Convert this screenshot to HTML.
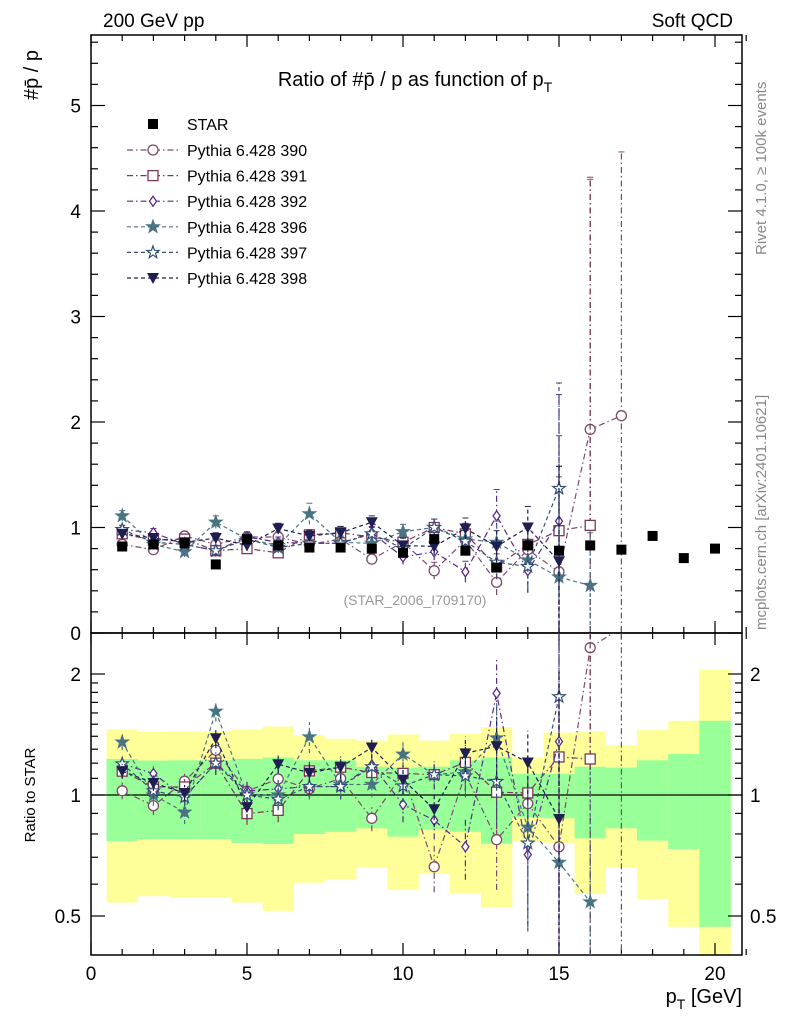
<!DOCTYPE html>
<html><head><meta charset="utf-8">
<style>
html,body{margin:0;padding:0;background:#fff;overflow:hidden;width:786px;height:1024px;}
svg{display:block;font-family:"Liberation Sans",sans-serif;}
</style></head>
<body>
<svg id="chart" width="786" height="1024" viewBox="0 0 786 1024" xmlns="http://www.w3.org/2000/svg">
<defs>
<clipPath id="cm"><rect x="91" y="35" width="651" height="598"/></clipPath>
<clipPath id="cr"><rect x="91" y="633" width="651" height="322"/></clipPath>
</defs>
<g id="bands" clip-path="url(#cr)"></g>
<g id="grid"></g>
<g id="series"></g>
<text x="103" y="27" font-size="19">200 GeV pp</text>
<text x="733" y="27" font-size="19" text-anchor="end">Soft QCD</text>
<text x="415" y="86" font-size="20" text-anchor="middle">Ratio of #p̄ / p as function of p<tspan font-size="14" dy="6">T</tspan></text>
<text transform="translate(38,100) rotate(-90)" font-size="20" text-anchor="start">#p̄ / p</text>
<text transform="translate(35,795) rotate(-90)" font-size="15" text-anchor="middle">Ratio to STAR</text>
<text x="742" y="1003" font-size="20" text-anchor="end">p<tspan font-size="14" dy="6">T</tspan><tspan dy="-6"> [GeV]</tspan></text>
<text transform="translate(766,255) rotate(-90)" font-size="15" fill="#888">Rivet 4.1.0, ≥ 100k events</text>
<text transform="translate(766,630) rotate(-90)" font-size="15" fill="#888">mcplots.cern.ch [arXiv:2401.10621]</text>
<text x="415" y="605" font-size="14" fill="#999" text-anchor="middle">(STAR_2006_I709170)</text>
<g id="legend"></g>
</svg>
<script>
const xs = [1,2,3,4,5,6,7,8,9,10,11,12,13,14,15,16,17,18,19,20];
const star = [0.82,0.84,0.85,0.65,0.89,0.83,0.81,0.81,0.80,0.76,0.89,0.78,0.62,0.83,0.78,0.83,0.79,0.92,0.71,0.80];
const s390 = [0.84,0.79,0.92,0.84,0.91,0.91,0.84,0.89,0.70,0.86,0.59,0.88,0.48,0.79,0.58,1.93,2.06];
const s391 = [0.94,0.88,0.89,0.78,0.80,0.76,0.93,0.95,0.91,0.86,1.00,0.94,0.63,0.84,0.97,1.02];
const s392 = [0.98,0.95,0.84,0.78,0.91,0.86,0.85,0.85,0.95,0.72,0.77,0.58,1.11,0.59,1.06];
const s396 = [1.11,0.84,0.77,1.05,0.89,0.83,1.13,0.86,0.85,0.96,1.00,0.89,0.86,0.69,0.53,0.45];
const s397 = [0.98,0.86,0.84,0.78,0.89,0.81,0.85,0.85,0.94,0.80,1.00,0.87,0.67,0.63,1.37];
const s398 = [0.94,0.90,0.86,0.90,0.83,0.99,0.92,0.95,1.05,0.83,0.82,0.99,0.82,1.00,0.68];
const e390 = [0.04,0.04,0.04,0.05,0.04,0.05,0.05,0.05,0.05,0.06,0.08,0.08,0.12,0.2,0.9,2.37,2.5];
const e391 = [0.04,0.04,0.04,0.05,0.05,0.05,0.05,0.06,0.06,0.07,0.08,0.1,0.12,0.2,0.9,3.3];
const e392 = [0.04,0.04,0.04,0.05,0.05,0.05,0.05,0.06,0.06,0.07,0.08,0.1,0.25,0.2,1.2];
const e396 = [0.05,0.05,0.05,0.06,0.05,0.06,0.1,0.06,0.06,0.07,0.08,0.1,0.2,0.3,1.05,0.5];
const e397 = [0.04,0.04,0.04,0.05,0.05,0.05,0.05,0.06,0.06,0.07,0.08,0.1,0.15,0.25,1.0];
const e398 = [0.04,0.04,0.04,0.05,0.05,0.05,0.05,0.06,0.06,0.07,0.08,0.1,0.15,0.2,0.9];
const yelHi = [1.457,1.437,1.44,1.44,1.457,1.48,1.41,1.38,1.365,1.415,1.365,1.42,1.475,1.24,1.43,1.44,1.33,1.45,1.53,2.05];
const grnHi = [1.229,1.218,1.22,1.22,1.23,1.24,1.22,1.22,1.176,1.17,1.176,1.22,1.24,1.13,1.13,1.176,1.17,1.22,1.265,1.53];
const grnLo = [0.768,0.777,0.777,0.777,0.76,0.755,0.80,0.81,0.826,0.788,0.82,0.81,0.757,0.88,0.875,0.78,0.826,0.77,0.734,0.47];
const yelLo = [0.54,0.56,0.555,0.555,0.54,0.515,0.605,0.617,0.66,0.58,0.636,0.57,0.526,0.766,0.76,0.567,0.66,0.55,0.47,0.3];
const xTicks = [0,5,10,15,20];
const yTicks = [0,1,2,3,4,5];
const rTicks = [0.5,1,2];

const NS="http://www.w3.org/2000/svg";
const X = v => 91 + v*31.2;
const Y = v => 633 - v*105.5;
const R = v => 795 - 121*Math.log2(v);
function mk(tag, attrs, parent){const e=document.createElementNS(NS,tag);for(const k in attrs)e.setAttribute(k,attrs[k]);parent.appendChild(e);return e;}
const grid=document.getElementById('grid');
const bands=document.getElementById('bands');
const ser=document.getElementById('series');
const leg=document.getElementById('legend');

xs.forEach((x,i)=>{
  const y1=mk('rect',{x:X(x-0.5),y:R(yelHi[i]),width:31.4,height:R(yelLo[i])-R(yelHi[i]),fill:'#ffff99'},bands);
  
  
  const g1=mk('rect',{x:X(x-0.5),y:R(grnHi[i]),width:31.4,height:R(grnLo[i])-R(grnHi[i]),fill:'#99ff99'},bands);
  
  
});

[[35,633],[633,955]].forEach(([t,b])=>{
  const f=mk('rect',{x:91,y:t,width:651,height:b-t,fill:'none',stroke:'#000','stroke-width':1.5},grid);
  
  
});
const one=mk('line',{x1:91,x2:742,y1:R(1),y2:R(1),stroke:'#000','stroke-width':1.2},grid);


for(let v=0;v<=21;v++){
  const L=(v%5===0)?12:6;
  [[633,-1],[35,1],[955,-1],[633,1]].forEach(([y,d])=>{
    mk('line',{x1:X(v),x2:X(v),y1:y,y2:y+d*L,stroke:'#000','stroke-width':1.2},grid);
  });
}
xTicks.forEach(v=>{
  const t=mk('text',{x:X(v),y:980,'font-size':19,'text-anchor':'middle'},grid);
  t.textContent=v;
  
  
});
for(let k=0;k<=28;k++){
  const v=k*0.2; const L=(k%5===0)?14:7;
  mk('line',{x1:91,x2:91+L,y1:Y(v),y2:Y(v),stroke:'#000','stroke-width':1.2},grid);
  mk('line',{x1:742,x2:742-L,y1:Y(v),y2:Y(v),stroke:'#000','stroke-width':1.2},grid);
}
yTicks.forEach(v=>{
  const t=mk('text',{x:81,y:Y(v)+7,'font-size':19,'text-anchor':'end'},grid);
  t.textContent=v;
  
  
});
[0.5,0.6,0.7,0.8,0.9,1,2,1.1,1.2,1.3,1.4,1.5,1.6,1.7,1.8,1.9].forEach(v=>{
  const L=(v===0.5||v===1||v===2)?14:7;
  mk('line',{x1:91,x2:91+L,y1:R(v),y2:R(v),stroke:'#000','stroke-width':1.2},grid);
  mk('line',{x1:742,x2:742-L,y1:R(v),y2:R(v),stroke:'#000','stroke-width':1.2},grid);
});
rTicks.forEach(v=>{
  const t=mk('text',{x:81,y:R(v)+7,'font-size':19,'text-anchor':'end'},grid);
  t.textContent=v;
  
  
  const t2=mk('text',{x:750,y:R(v)+7,'font-size':19},grid);
  t2.textContent=v;
  
  
});

function marker(type,cx,cy,col,parent){
  const s=5;
  if(type==='circle') return mk('circle',{cx,cy,r:5,fill:'#fff',stroke:col,'stroke-width':1.3},parent);
  if(type==='square') return mk('rect',{x:cx-s,y:cy-s,width:2*s,height:2*s,fill:'#fff',stroke:col,'stroke-width':1.3},parent);
  if(type==='fsquare') return mk('rect',{x:cx-s,y:cy-s,width:2*s,height:2*s,fill:col},parent);
  if(type==='diamond') return mk('polygon',{points:`${cx},${cy-5} ${cx+3.5},${cy} ${cx},${cy+5} ${cx-3.5},${cy}`,fill:'#fff',stroke:col,'stroke-width':1.3},parent);
  if(type==='tri') return mk('polygon',{points:`${cx-6},${cy-5} ${cx+6},${cy-5} ${cx},${cy+6}`,fill:col},parent);
  let p=[];for(let k=0;k<10;k++){const a=-Math.PI/2+k*Math.PI/5;const r=k%2?2.6:6.5;p.push((cx+r*Math.cos(a)).toFixed(1)+','+(cy+r*Math.sin(a)).toFixed(1));}
  return mk('polygon',{points:p.join(' '),fill:type==='star'?col:'#fff',stroke:col,'stroke-width':1.2},parent);
}

const series=[
 {name:'Pythia 6.428 390',v:s390,e:e390,col:'#7d4a6e',m:'circle',dash:'6,3,1.5,3'},
 {name:'Pythia 6.428 391',v:s391,e:e391,col:'#7a3858',m:'square',dash:'6,3,1.5,3'},
 {name:'Pythia 6.428 392',v:s392,e:e392,col:'#5a2a8c',m:'diamond',dash:'6,3,1.5,3'},
 {name:'Pythia 6.428 396',v:s396,e:e396,col:'#4a7383',m:'star',dash:'4,3'},
 {name:'Pythia 6.428 397',v:s397,e:e397,col:'#34507a',m:'ostar',dash:'4,3'},
 {name:'Pythia 6.428 398',v:s398,e:e398,col:'#1e1e50',m:'tri',dash:'4,3'}
];

const gm=mk('g',{'clip-path':'url(#cm)'},ser);
const gr=mk('g',{'clip-path':'url(#cr)'},ser);
series.forEach(s=>{
  const g1=mk('g',{},gm);
  
  
  const g2=mk('g',{},gr);
  
  
  const pm=s.v.map((v,i)=>X(xs[i])+','+Y(v)).join(' ');
  mk('polyline',{points:pm,fill:'none',stroke:s.col,'stroke-width':1.2,'stroke-dasharray':s.dash},g1);
  const pr=s.v.map((v,i)=>X(xs[i])+','+R(v/star[i])).join(' ');
  mk('polyline',{points:pr,fill:'none',stroke:s.col,'stroke-width':1.2,'stroke-dasharray':s.dash},g2);
  s.v.forEach((v,i)=>{
    const x=X(xs[i]);
    const lo=Math.max(v-s.e[i],0.01), hi=v+s.e[i];
    mk('line',{x1:x,x2:x,y1:Y(lo),y2:Y(hi),stroke:s.col,'stroke-width':1.2,'stroke-dasharray':s.dash},g1);
    mk('line',{x1:x-3,x2:x+3,y1:Y(hi),y2:Y(hi),stroke:s.col},g1);
    const pt=marker(s.m,x,Y(v),s.col,g1);
    
    
    const rl=lo/star[i], rh=hi/star[i];
    mk('line',{x1:x,x2:x,y1:R(rl),y2:R(rh),stroke:s.col,'stroke-width':1.2,'stroke-dasharray':s.dash},g2);
    const rp=marker(s.m,x,R(v/star[i]),s.col,g2);
    
    
  });
});
const gs=mk('g',{},gm);


star.forEach((v,i)=>{
  const p=marker('fsquare',X(xs[i]),Y(v),'#000',gs);
  
  
});

const sp=marker('fsquare',153,124,'#000',leg);


const st=mk('text',{x:187,y:130,'font-size':16},leg);
st.textContent='STAR';


series.forEach((s,k)=>{
  const y=150+k*25.6;
  mk('line',{x1:127,x2:178,y1:y,y2:y,stroke:s.col,'stroke-width':1.2,'stroke-dasharray':s.dash},leg);
  const m=marker(s.m,153,y,s.col,leg);
  
  
  const t=mk('text',{x:187,y:y+6,'font-size':16},leg);
  t.textContent=s.name;
  
  
});
</script>
</body></html>
